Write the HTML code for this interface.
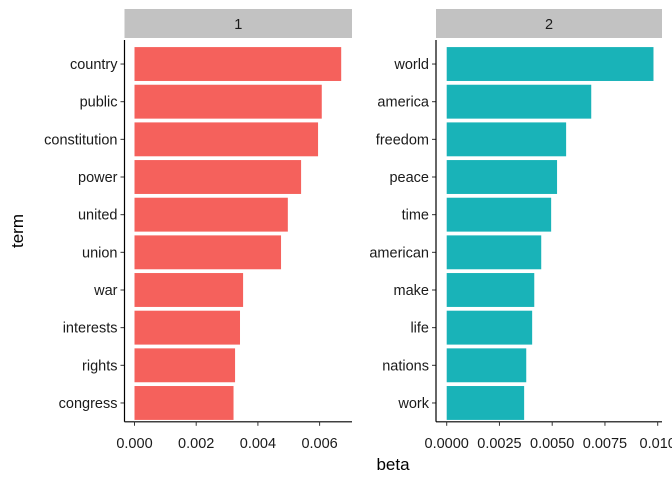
<!DOCTYPE html>
<html><head><meta charset="utf-8"><style>
body{margin:0;background:#fff}
text{font-family:"Liberation Sans",Arial,sans-serif;}
</style></head><body>
<svg id="chart" width="672" height="480" xmlns="http://www.w3.org/2000/svg"></svg>
<script>
const terms1 = ["country","public","constitution","power","united","union","war","interests","rights","congress"];
const beta1 = [0.00670,0.00607,0.00595,0.00540,0.00497,0.00475,0.00352,0.00342,0.00326,0.00321];
const terms2 = ["world","america","freedom","peace","time","american","make","life","nations","work"];
const beta2 = [0.00980,0.00685,0.00566,0.00523,0.00495,0.00448,0.00415,0.00405,0.00377,0.00367];
const ticks1 = [0,0.002,0.004,0.006];
const tickLabels1 = ["0.000","0.002","0.004","0.006"];
const ticks2 = [0,0.0025,0.005,0.0075,0.01];
const tickLabels2 = ["0.0000","0.0025","0.0050","0.0075","0.010"];

const NS="http://www.w3.org/2000/svg";
const svg=document.getElementById('chart');
function mk(tag,attrs,parent){const e=document.createElementNS(NS,tag);for(const k in attrs)e.setAttribute(k,attrs[k]);(parent||svg).appendChild(e);return e;}
const plotTop=45.2,plotBottom=421.8,axisTop=40,step=(plotBottom-plotTop)/10;
function yScale(i){return plotTop+step*(i+0.5);}
const panels=[
 {name:"1",terms:terms1,vals:beta1,ticks:ticks1,labels:tickLabels1,left:124.5,right:352,x0:134.5,pxPer:30850,color:"#F5615C"},
 {name:"2",terms:terms2,vals:beta2,ticks:ticks2,labels:tickLabels2,left:436,right:662,x0:446.7,pxPer:21100,color:"#19B3B8"}
];
panels.forEach((p,pi)=>{
 const xs=v=>p.x0+v*p.pxPer;
 const g=mk('g',{});
 
 
 const strip=mk('rect',{x:p.left,y:9,width:p.right-p.left,height:29,fill:"#C2C2C2"},g);
 
 
 const st=mk('text',{x:(p.left+p.right)/2,y:29,'text-anchor':'middle','font-size':14.5,fill:'#1a1a1a'},g);
 st.textContent=p.name;
 
 
 p.terms.forEach((t,i)=>{
  const cy=yScale(i),h=step*0.9;
  const r=mk('rect',{x:xs(0),y:cy-h/2,width:xs(p.vals[i])-xs(0),height:h,fill:p.color},g);
  
  
  mk('line',{x1:p.left-4,x2:p.left,y1:cy,y2:cy,stroke:'#333','stroke-width':1},g);
  const lt=mk('text',{x:p.left-7,y:cy+5,'text-anchor':'end','font-size':14.5,fill:'#1a1a1a'},g);
  lt.textContent=t;
  
  
 });
 const ax=mk('line',{x1:p.left,x2:p.left,y1:axisTop,y2:plotBottom,stroke:'#000','stroke-width':1.2},g);
 
 
 const bx=mk('line',{x1:p.left,x2:p.right,y1:plotBottom,y2:plotBottom,stroke:'#000','stroke-width':1.2},g);
 
 
 p.ticks.forEach((v,i)=>{
  mk('line',{x1:xs(v),x2:xs(v),y1:plotBottom,y2:plotBottom+4,stroke:'#333','stroke-width':1},g);
  const tt=mk('text',{x:xs(v),y:plotBottom+26,'text-anchor':'middle','font-size':14.5,fill:'#1a1a1a'},g);
  tt.textContent=p.labels[i];
  
  
 });
});
const xt=mk('text',{x:393,y:470,'text-anchor':'middle','font-size':17,fill:'#000'});
xt.textContent='beta';


const yt=mk('text',{x:0,y:0,'text-anchor':'middle','font-size':17,fill:'#000',transform:'translate(23,231) rotate(-90)'});
yt.textContent='term';


</script>
</body></html>
